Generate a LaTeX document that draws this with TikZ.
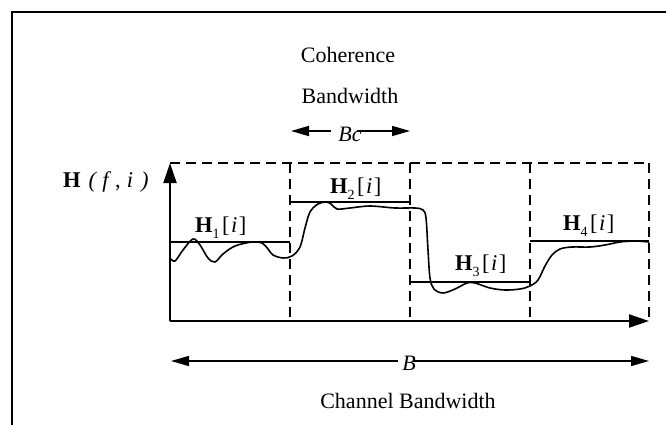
\documentclass[tikz,border=0pt]{standalone}
\usepackage{fontspec}
\setmainfont{Liberation Serif}
\usetikzlibrary{arrows.meta}
\begin{document}
\begin{tikzpicture}[x=1pt,y=-1pt,
  lbl/.style={font=\fontsize{22}{24}\selectfont, inner sep=0pt, anchor=base},
  hlbl/.style={font=\fontsize{22.5}{24}\selectfont, inner sep=0pt, anchor=base west},
  frameline/.style={line width=2pt},
  axisline/.style={line width=2pt},
  gridline/.style={line width=1.8pt, dash pattern=on 10pt off 6pt},
  levelline/.style={line width=1.6pt},
  curveline/.style={line width=1.6pt},
  dimline/.style={line width=1.6pt},
  bigtip/.style={-{Triangle[length=20pt,width=13pt]}},
  smalltip/.style={-{Triangle[length=18pt,width=10pt]}}
]
\useasboundingbox (0,0) rectangle (666,425);
% frame
\coordinate (F1) at (12,425);
\coordinate (F2) at (12,12);
\coordinate (F3) at (666,12);
\draw[frameline] (F1) -- (F2) -- (F3);

% axes
\coordinate (O) at (170,321);
\coordinate (Ytop) at (170,163);
\coordinate (Xend) at (649,321);
\draw[axisline,bigtip] (O) -- (Ytop);
\draw[axisline,bigtip] (O) -- (Xend);

% dashed grid
\coordinate (T0) at (170,163);
\coordinate (T4) at (649,163);
\draw[gridline] (T0) -- (T4);
\foreach \x/\n in {290/1,410/2,530/3,649/4}{
  \coordinate (G\n t) at (\x,163);
  \coordinate (G\n b) at (\x,321);
  \draw[gridline] (G\n t) -- (G\n b);
}

% level lines
\coordinate (L1a) at (170,242); \coordinate (L1b) at (290,242);
\coordinate (L2a) at (290,202); \coordinate (L2b) at (410,202);
\coordinate (L3a) at (410,282); \coordinate (L3b) at (530,282);
\coordinate (L4a) at (530,241); \coordinate (L4b) at (649,241);
\draw[levelline] (L1a) -- (L1b);
\draw[levelline] (L2a) -- (L2b);
\draw[levelline] (L3a) -- (L3b);
\draw[levelline] (L4a) -- (L4b);

% labels
\newcommand{\Hsub}[1]{\textbf{H}\raisebox{-6pt}{\fontsize{14}{14}\selectfont #1}\hspace{2.5pt}[\hspace{1.5pt}\textit{i}\hspace{1.5pt}]}
\node[hlbl] (H1) at (195,232) {\Hsub{1}};
\node[hlbl] (H2) at (330,193) {\Hsub{2}};
\node[hlbl] (H3) at (455,270) {\Hsub{3}};
\node[hlbl] (H4) at (563,230) {\Hsub{4}};
\node[hlbl] (Hf) at (63,187) {\textbf{H}\hspace{8pt}\textit{(}\hspace{5pt}\textit{f}\hspace{4pt},\hspace{6pt}\textit{i}\hspace{8pt}\textit{)}};

% response curve
\draw[curveline] plot[smooth,tension=0.55] coordinates {
(170,258) (175,261) (183,250) (193,239) (200,245) (208,258) (215,262)
(223,254) (235,246) (252,242) (262,243) (268,249) (273,255) (283,258)
(292,256) (300,247) (305,228) (310,212) (318,204) (326,202) (331,204)
(337,209) (350,208) (370,206) (395,208) (415,208) (423,210) (426,218)
(428,250) (430,278) (434,289) (443,293) (455,289) (467,283) (475,283)
(490,288) (505,290) (520,289) (530,286) (538,280) (545,266) (552,255)
(560,249) (572,247) (590,247) (605,245) (620,242) (635,241) (649,242)};

% coherence bandwidth
\node[lbl] (coh) at (348,63) {Coherence};
\node[lbl] (bw) at (350,103) {Bandwidth};
\node[lbl] (Bc) at (350,141) {\textit{Bc}};
\coordinate (BcL) at (291,131);
\coordinate (BcLs) at (331,131);
\coordinate (BcRs) at (357,131);
\coordinate (BcR) at (410,131);
\draw[dimline,smalltip] (BcLs) -- (BcL);
\draw[dimline,smalltip] (BcRs) -- (BcR);

% channel bandwidth
\node[lbl] (B) at (409,370) {\textit{B}};
\coordinate (BL) at (171,361);
\coordinate (BLs) at (398,361);
\coordinate (BRs) at (413,361);
\coordinate (BR) at (649,361);
\draw[dimline,smalltip] (BLs) -- (BL);
\draw[dimline,smalltip] (BRs) -- (BR);
\node[lbl] (cb) at (408,408) {Channel Bandwidth};
\end{tikzpicture}
\end{document}
